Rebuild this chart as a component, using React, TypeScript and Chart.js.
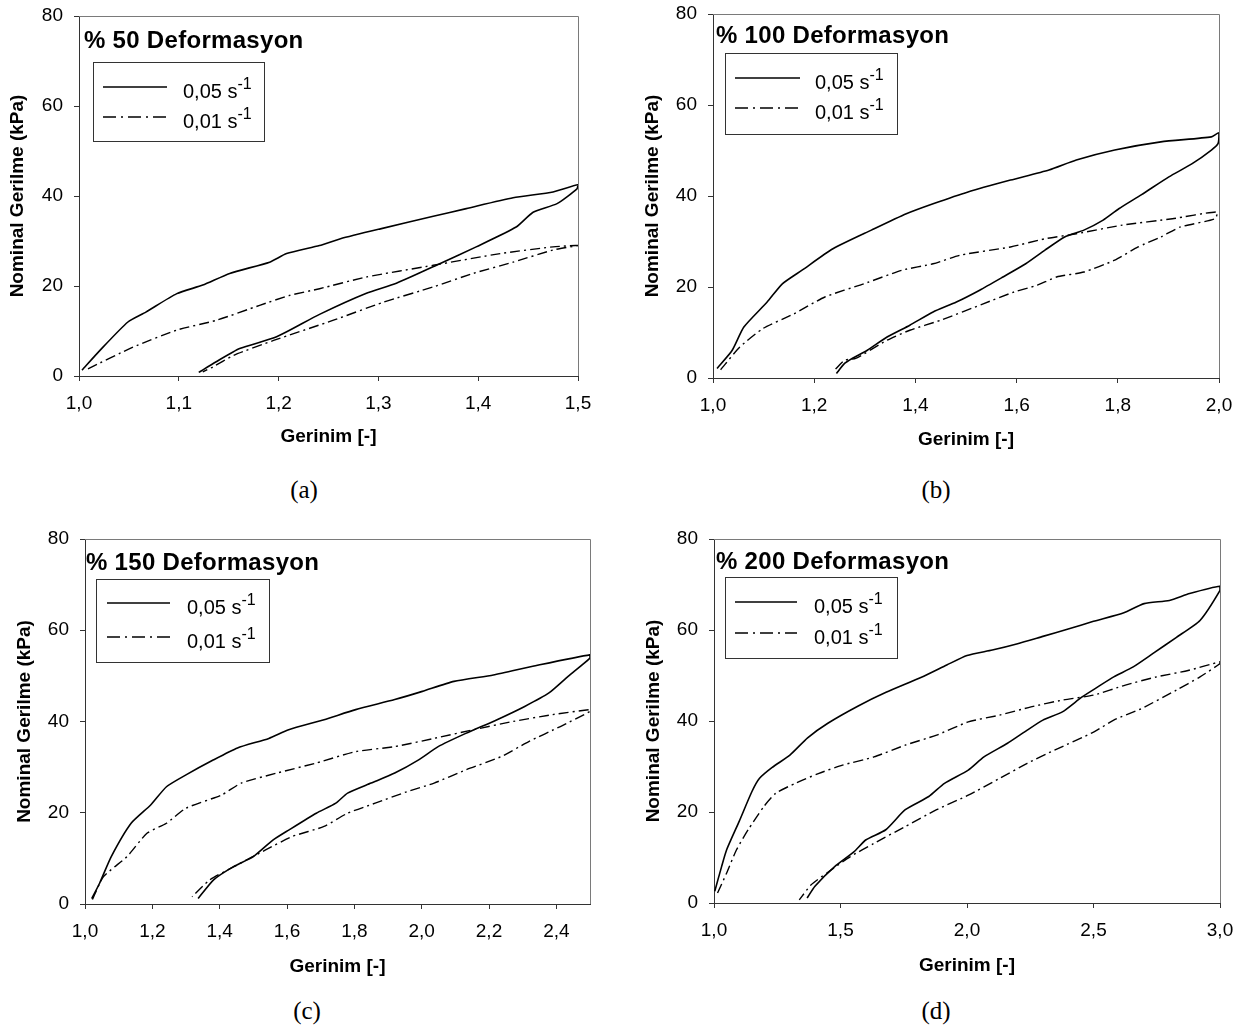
import React, { useEffect, useRef } from 'react';
import { Chart, registerables } from 'chart.js';

Chart.register(...registerables);

// ---------- DATA ----------
const seriesFast = '0,05 s';
const seriesSlow = '0,01 s';
const seriesExp = '-1';
const yAxisTitle = 'Nominal Gerilme (kPa)';
const xAxisTitle = 'Gerinim [-]';
const panelTitles = ['% 50 Deformasyon', '% 100 Deformasyon', '% 150 Deformasyon', '% 200 Deformasyon'];
const captions = ['(a)', '(b)', '(c)', '(d)'];

const yTicks = [0, 20, 40, 60, 80];
const xTicksA = [1.0, 1.1, 1.2, 1.3, 1.4, 1.5];
const xTicksB = [1.0, 1.2, 1.4, 1.6, 1.8, 2.0];
const xTicksC = [1.0, 1.2, 1.4, 1.6, 1.8, 2.0, 2.2, 2.4];
const xTicksD = [1.0, 1.5, 2.0, 2.5, 3.0];
const xRangeA = [1.0, 1.5];
const xRangeB = [1.0, 2.0];
const xRangeC = [1.0, 2.5];
const xRangeD = [1.0, 3.0];

// (a) % 50
const strainA_fast = [1.003, 1.021, 1.049, 1.067, 1.098, 1.124, 1.151, 1.191, 1.208, 1.241, 1.262, 1.302, 1.355, 1.388, 1.435, 1.475, 1.5, 1.499, 1.479, 1.455, 1.438, 1.398, 1.362, 1.318, 1.288, 1.241, 1.198, 1.161, 1.137, 1.12];
const stressA_fast = [1.3, 5.7, 12, 14.2, 18.3, 20.2, 22.8, 25.3, 27.2, 29, 30.5, 32.7, 35.5, 37.2, 39.6, 40.9, 42.5, 41.6, 38.3, 36.4, 33.1, 28.7, 25, 20.6, 18.4, 13.7, 8.7, 6.1, 3.1, 0.8];
const strainA_slow = [1.009, 1.054, 1.098, 1.138, 1.181, 1.211, 1.241, 1.288, 1.355, 1.422, 1.475, 1.5, 1.475, 1.435, 1.395, 1.355, 1.305, 1.255, 1.195, 1.155, 1.134, 1.124];
const stressA_slow = [1.6, 6.4, 10.2, 12.4, 15.7, 17.9, 19.4, 22, 24.6, 27.2, 28.7, 29, 28, 25.3, 22.8, 19.8, 16.4, 12.4, 7.9, 4.6, 2, 0.9];

// (b) % 100
const strainB_fast = [1.008, 1.038, 1.061, 1.107, 1.137, 1.176, 1.237, 1.313, 1.382, 1.435, 1.504, 1.588, 1.664, 1.718, 1.794, 1.885, 1.985, 2.0, 1.998, 1.985, 1.947, 1.901, 1.847, 1.802, 1.771, 1.733, 1.695, 1.656, 1.618, 1.573, 1.527, 1.481, 1.435, 1.389, 1.344, 1.305, 1.275, 1.26, 1.244];
const stressB_fast = [2.1, 6.1, 11.2, 16.7, 20.7, 23.7, 28.4, 32.5, 36.1, 38.3, 40.9, 43.5, 45.7, 47.9, 50.1, 51.9, 53, 53.9, 51.5, 50.1, 47.1, 44.2, 40.3, 37.2, 34.7, 32.5, 31, 28.1, 25.1, 22.2, 19.3, 16.7, 14.5, 11.6, 9, 6.1, 4.3, 3.2, 1];
const strainB_slow = [1.015, 1.053, 1.099, 1.16, 1.221, 1.298, 1.374, 1.435, 1.489, 1.588, 1.656, 1.718, 1.809, 1.908, 1.996, 1.992, 1.924, 1.885, 1.84, 1.794, 1.733, 1.679, 1.641, 1.595, 1.534, 1.45, 1.389, 1.344, 1.282, 1.26, 1.24];
const stressB_slow = [1.8, 6.8, 10.9, 14.1, 17.8, 20.7, 23.7, 25.1, 27, 28.8, 30.6, 31.7, 33.6, 35, 36.5, 35, 33.2, 31, 28.8, 25.9, 23.3, 22.2, 20.4, 18.9, 16.3, 12.7, 10.5, 8.3, 4.3, 3.9, 1.7];

// (c) % 150
const strainC_fast = [1.02, 1.043, 1.078, 1.137, 1.195, 1.242, 1.3, 1.382, 1.453, 1.546, 1.605, 1.71, 1.804, 1.92, 2.002, 2.096, 2.213, 2.33, 2.5, 2.5, 2.435, 2.377, 2.306, 2.224, 2.131, 2.049, 1.991, 1.92, 1.85, 1.78, 1.745, 1.687, 1.605, 1.558, 1.5, 1.441, 1.382, 1.336];
const stressC_fast = [1.2, 4.5, 10.4, 17.7, 21.7, 25.7, 28.3, 31.6, 34.2, 36.3, 38.2, 40.4, 42.6, 44.8, 46.6, 48.8, 50.2, 52.1, 54.6, 53.9, 49.9, 46.2, 43.3, 40.4, 37.4, 34.5, 31.6, 28.7, 26.5, 24.3, 22.1, 19.9, 16.2, 14, 10.4, 8.2, 5.3, 1.2];
const strainC_slow = [1.022, 1.055, 1.125, 1.184, 1.242, 1.3, 1.406, 1.464, 1.57, 1.687, 1.804, 1.92, 2.037, 2.154, 2.271, 2.388, 2.5, 2.5, 2.412, 2.318, 2.236, 2.131, 2.037, 1.956, 1.862, 1.78, 1.71, 1.616, 1.535, 1.453, 1.371, 1.318];
const stressC_slow = [1, 6, 10.4, 15.5, 17.7, 21, 23.9, 26.5, 28.7, 30.9, 33.4, 34.5, 36.3, 38.2, 40, 41.5, 42.6, 42.2, 38.9, 35.6, 32.3, 29.4, 26.5, 24.6, 22.1, 19.9, 17, 14.8, 11.8, 8.6, 5.3, 1.6];

// (d) % 200
const strainD_fast = [1.003, 1.03, 1.05, 1.1, 1.15, 1.18, 1.23, 1.3, 1.37, 1.45, 1.57, 1.68, 1.82, 1.92, 2.0, 2.1, 2.2, 2.3, 2.4, 2.5, 2.62, 2.7, 2.8, 2.88, 3.0, 3.0, 2.921, 2.828, 2.734, 2.657, 2.58, 2.517, 2.455, 2.377, 2.3, 2.238, 2.16, 2.067, 2.005, 1.911, 1.849, 1.756, 1.679, 1.601, 1.554, 1.477, 1.399, 1.368];
const stressD_fast = [2.6, 8, 11.7, 18, 24.5, 27.4, 29.8, 32.5, 36.3, 39.5, 43.3, 46.3, 49.6, 52.3, 54.4, 55.6, 57, 58.6, 60.2, 61.9, 63.8, 65.8, 66.5, 68, 69.6, 68.7, 62.1, 58.4, 54.8, 51.9, 49.7, 47.5, 45.3, 42, 40.2, 38, 35.1, 32.1, 29.2, 26.3, 23.4, 20.5, 16.1, 13.9, 11.3, 8, 3.7, 1.1];
const strainD_slow = [1.014, 1.05, 1.089, 1.135, 1.197, 1.244, 1.321, 1.415, 1.508, 1.632, 1.756, 1.88, 2.005, 2.129, 2.253, 2.377, 2.502, 2.626, 2.75, 2.874, 3.0, 3.0, 2.921, 2.828, 2.688, 2.58, 2.502, 2.346, 2.238, 2.129, 2.005, 1.88, 1.756, 1.632, 1.539, 1.446, 1.384, 1.337];
const stressD_slow = [2.2, 6.6, 11.7, 16.1, 21.2, 24.1, 26.3, 28.5, 30.3, 32.1, 34.7, 36.9, 39.8, 41.3, 43.1, 44.6, 45.7, 47.9, 49.7, 51.1, 53, 52.6, 49.7, 46.8, 42.7, 40.2, 37.6, 33.6, 30.7, 27.4, 23.7, 20.5, 16.8, 13.1, 10.2, 6.6, 4, 0.7];

// ---------- LAYOUT ----------
const SANS = '"Liberation Sans", Arial, Helvetica, sans-serif';
const SERIF = '"Liberation Serif", "Times New Roman", serif';

type PanelCfg = {
  title: string;
  caption: string;
  fx: number[]; fy: number[]; sx: number[]; sy: number[];
  xTicks: number[]; xRange: number[];
  canvas: { left: number; top: number; width: number; height: number };
  pad: { left: number; top: number; right: number; bottom: number };
  yW: number; xH: number;
  titlePos: { left: number; top: number };
  legend: { x: number; y: number; w: number; h: number; lx1: number; lx2: number; rows: number[]; tx: number };
  capPos: { cx: number; cy: number };
};

const panels: PanelCfg[] = [
  {
    title: panelTitles[0], caption: captions[0],
    fx: strainA_fast, fy: stressA_fast, sx: strainA_slow, sy: stressA_slow,
    xTicks: xTicksA, xRange: xRangeA,
    canvas: { left: 0, top: -8, width: 604, height: 456 },
    pad: { left: 6, top: 24, right: 26, bottom: 0 },
    yW: 73, xH: 72,
    titlePos: { left: 84, top: 28 },
    legend: { x: 93, y: 62, w: 172, h: 80, lx1: 103, lx2: 167, rows: [87, 117], tx: 183 },
    capPos: { cx: 304, cy: 492 },
  },
  {
    title: panelTitles[1], caption: captions[1],
    fx: strainB_fast, fy: stressB_fast, sx: strainB_slow, sy: stressB_slow,
    xTicks: xTicksB, xRange: xRangeB,
    canvas: { left: 630, top: -10, width: 616, height: 461 },
    pad: { left: 11, top: 24, right: 27, bottom: 0 },
    yW: 72, xH: 73,
    titlePos: { left: 716, top: 23 },
    legend: { x: 725, y: 53, w: 173, h: 82, lx1: 735, lx2: 800, rows: [78, 108], tx: 815 },
    capPos: { cx: 936, cy: 492 },
  },
  {
    title: panelTitles[2], caption: captions[2],
    fx: strainC_fast, fy: stressC_fast, sx: strainC_slow, sy: stressC_slow,
    xTicks: xTicksC, xRange: xRangeC,
    canvas: { left: 0, top: 515, width: 620, height: 463 },
    pad: { left: 13, top: 24, right: 30, bottom: 0 },
    yW: 72, xH: 74,
    titlePos: { left: 86, top: 550 },
    legend: { x: 96, y: 579, w: 174, h: 84, lx1: 107, lx2: 170, rows: [603, 637], tx: 187 },
    capPos: { cx: 307, cy: 1013 },
  },
  {
    title: panelTitles[3], caption: captions[3],
    fx: strainD_fast, fy: stressD_fast, sx: strainD_slow, sy: stressD_slow,
    xTicks: xTicksD, xRange: xRangeD,
    canvas: { left: 630, top: 515, width: 616, height: 462 },
    pad: { left: 12, top: 24, right: 26, bottom: 0 },
    yW: 72, xH: 74,
    titlePos: { left: 716, top: 549 },
    legend: { x: 725, y: 577, w: 173, h: 82, lx1: 735, lx2: 797, rows: [602, 633], tx: 814 },
    capPos: { cx: 936, cy: 1013 },
  },
];

const toPoints = (xs: number[], ys: number[]) => xs.map((x, i) => ({ x, y: ys[i] }));

const framePlugin = {
  id: 'frame',
  afterDatasetsDraw(chart: any) {
    const { ctx, chartArea } = chart;
    const { left, top, right, bottom } = chartArea;
    ctx.save();
    ctx.strokeStyle = '#7a7a7a';
    ctx.lineWidth = 1;
    ctx.beginPath();
    ctx.moveTo(Math.round(left), Math.round(top) + 0.5);
    ctx.lineTo(Math.round(right) + 0.5, Math.round(top) + 0.5);
    ctx.lineTo(Math.round(right) + 0.5, Math.round(bottom));
    ctx.stroke();
    ctx.restore();
  },
};

function PanelChart({ cfg }: { cfg: PanelCfg }) {
  const ref = useRef<HTMLCanvasElement | null>(null);
  useEffect(() => {
    if (!ref.current) return;
    const tickFont = { family: SANS, size: 19 };
    const titleFont = { family: SANS, size: 19, weight: 'bold' as const };
    const chart = new Chart(ref.current, {
      type: 'scatter',
      data: {
        datasets: [
          {
            label: seriesFast + seriesExp,
            data: toPoints(cfg.fx, cfg.fy),
            showLine: true,
            borderColor: '#000',
            backgroundColor: '#000',
            borderWidth: 1.6,
            pointRadius: 0,
            tension: 0.2,
          },
          {
            label: seriesSlow + seriesExp,
            data: toPoints(cfg.sx, cfg.sy),
            showLine: true,
            borderColor: '#000',
            backgroundColor: '#000',
            borderWidth: 1.4,
            borderDash: [10, 4, 2, 4],
            pointRadius: 0,
            tension: 0.2,
          },
        ],
      },
      options: {
        animation: false,
        responsive: false,
        events: [],
        layout: { padding: cfg.pad },
        plugins: {
          legend: { display: false },
          tooltip: { enabled: false },
          title: { display: false },
        },
        scales: {
          x: {
            type: 'linear',
            min: cfg.xRange[0],
            max: cfg.xRange[1],
            afterBuildTicks: (s: any) => {
              s.ticks = cfg.xTicks.map((v) => ({ value: v }));
            },
            afterFit: (s: any) => {
              s.height = cfg.xH;
            },
            ticks: {
              font: tickFont,
              color: '#000',
              padding: 11,
              maxRotation: 0,
              autoSkip: false,
              callback: (v: any) => Number(v).toFixed(1).replace('.', ','),
            },
            grid: { drawOnChartArea: false, drawTicks: true, tickLength: 5, color: '#333' },
            border: { display: true, color: '#333', width: 1 },
            title: { display: true, text: xAxisTitle, font: titleFont, color: '#000', padding: 0 },
          },
          y: {
            type: 'linear',
            min: yTicks[0],
            max: yTicks[yTicks.length - 1],
            afterBuildTicks: (s: any) => {
              s.ticks = yTicks.map((v) => ({ value: v }));
            },
            afterFit: (s: any) => {
              s.width = cfg.yW;
            },
            ticks: {
              font: tickFont,
              color: '#000',
              padding: 11,
              callback: (v: any) => String(v),
            },
            grid: { drawOnChartArea: false, drawTicks: true, tickLength: 5, color: '#333' },
            border: { display: true, color: '#333', width: 1 },
            title: { display: true, text: yAxisTitle, font: titleFont, color: '#000', padding: 0 },
          },
        },
      } as any,
      plugins: [framePlugin],
    });
    return () => chart.destroy();
  }, [cfg]);

  const { canvas, legend, titlePos, capPos } = cfg;
  return (
    <>
      <canvas
        ref={ref}
        width={canvas.width}
        height={canvas.height}
        style={{ position: 'absolute', left: canvas.left, top: canvas.top, width: canvas.width, height: canvas.height }}
      />
      <div
        style={{
          position: 'absolute', left: titlePos.left, top: titlePos.top,
          font: `bold 24px ${SANS}`, lineHeight: '24px', letterSpacing: '0.3px',
          whiteSpace: 'nowrap', color: '#000',
        }}
      >
        {cfg.title}
      </div>
      <div
        style={{
          position: 'absolute', left: legend.x, top: legend.y, width: legend.w, height: legend.h,
          border: '1px solid #333', boxSizing: 'border-box', background: '#fff',
        }}
      />
      <svg
        width={legend.lx2 - legend.lx1 + 2}
        height={legend.rows[1] - legend.rows[0] + 10}
        style={{ position: 'absolute', left: legend.lx1 - 1, top: legend.rows[0] - 5, overflow: 'visible' }}
      >
        <line x1={1} y1={5} x2={legend.lx2 - legend.lx1 + 1} y2={5} stroke="#000" strokeWidth={1.6} />
        <line
          x1={1}
          y1={5 + legend.rows[1] - legend.rows[0]}
          x2={legend.lx2 - legend.lx1 + 1}
          y2={5 + legend.rows[1] - legend.rows[0]}
          stroke="#000"
          strokeWidth={1.4}
          strokeDasharray="13 5 2 5"
        />
      </svg>
      {[seriesFast, seriesSlow].map((lab, i) => (
        <div
          key={lab}
          style={{
            position: 'absolute', left: legend.tx, top: legend.rows[i] - 6,
            font: `20px ${SANS}`, lineHeight: '20px', whiteSpace: 'nowrap', color: '#000',
          }}
        >
          {lab}
          <span style={{ fontSize: 16, position: 'relative', top: -9 }}>{seriesExp}</span>
        </div>
      ))}
      <div
        style={{
          position: 'absolute', left: capPos.cx - 50, top: capPos.cy - 15, width: 100,
          textAlign: 'center', font: `25px ${SERIF}`, lineHeight: '25px', color: '#000',
        }}
      >
        {cfg.caption}
      </div>
    </>
  );
}

export default function App() {
  return (
    <div
      style={{
        position: 'absolute', left: 0, top: 0, width: 1246, height: 1029,
        background: '#fff', overflow: 'hidden',
      }}
    >
      {panels.map((p) => (
        <PanelChart key={p.title} cfg={p} />
      ))}
    </div>
  );
}
